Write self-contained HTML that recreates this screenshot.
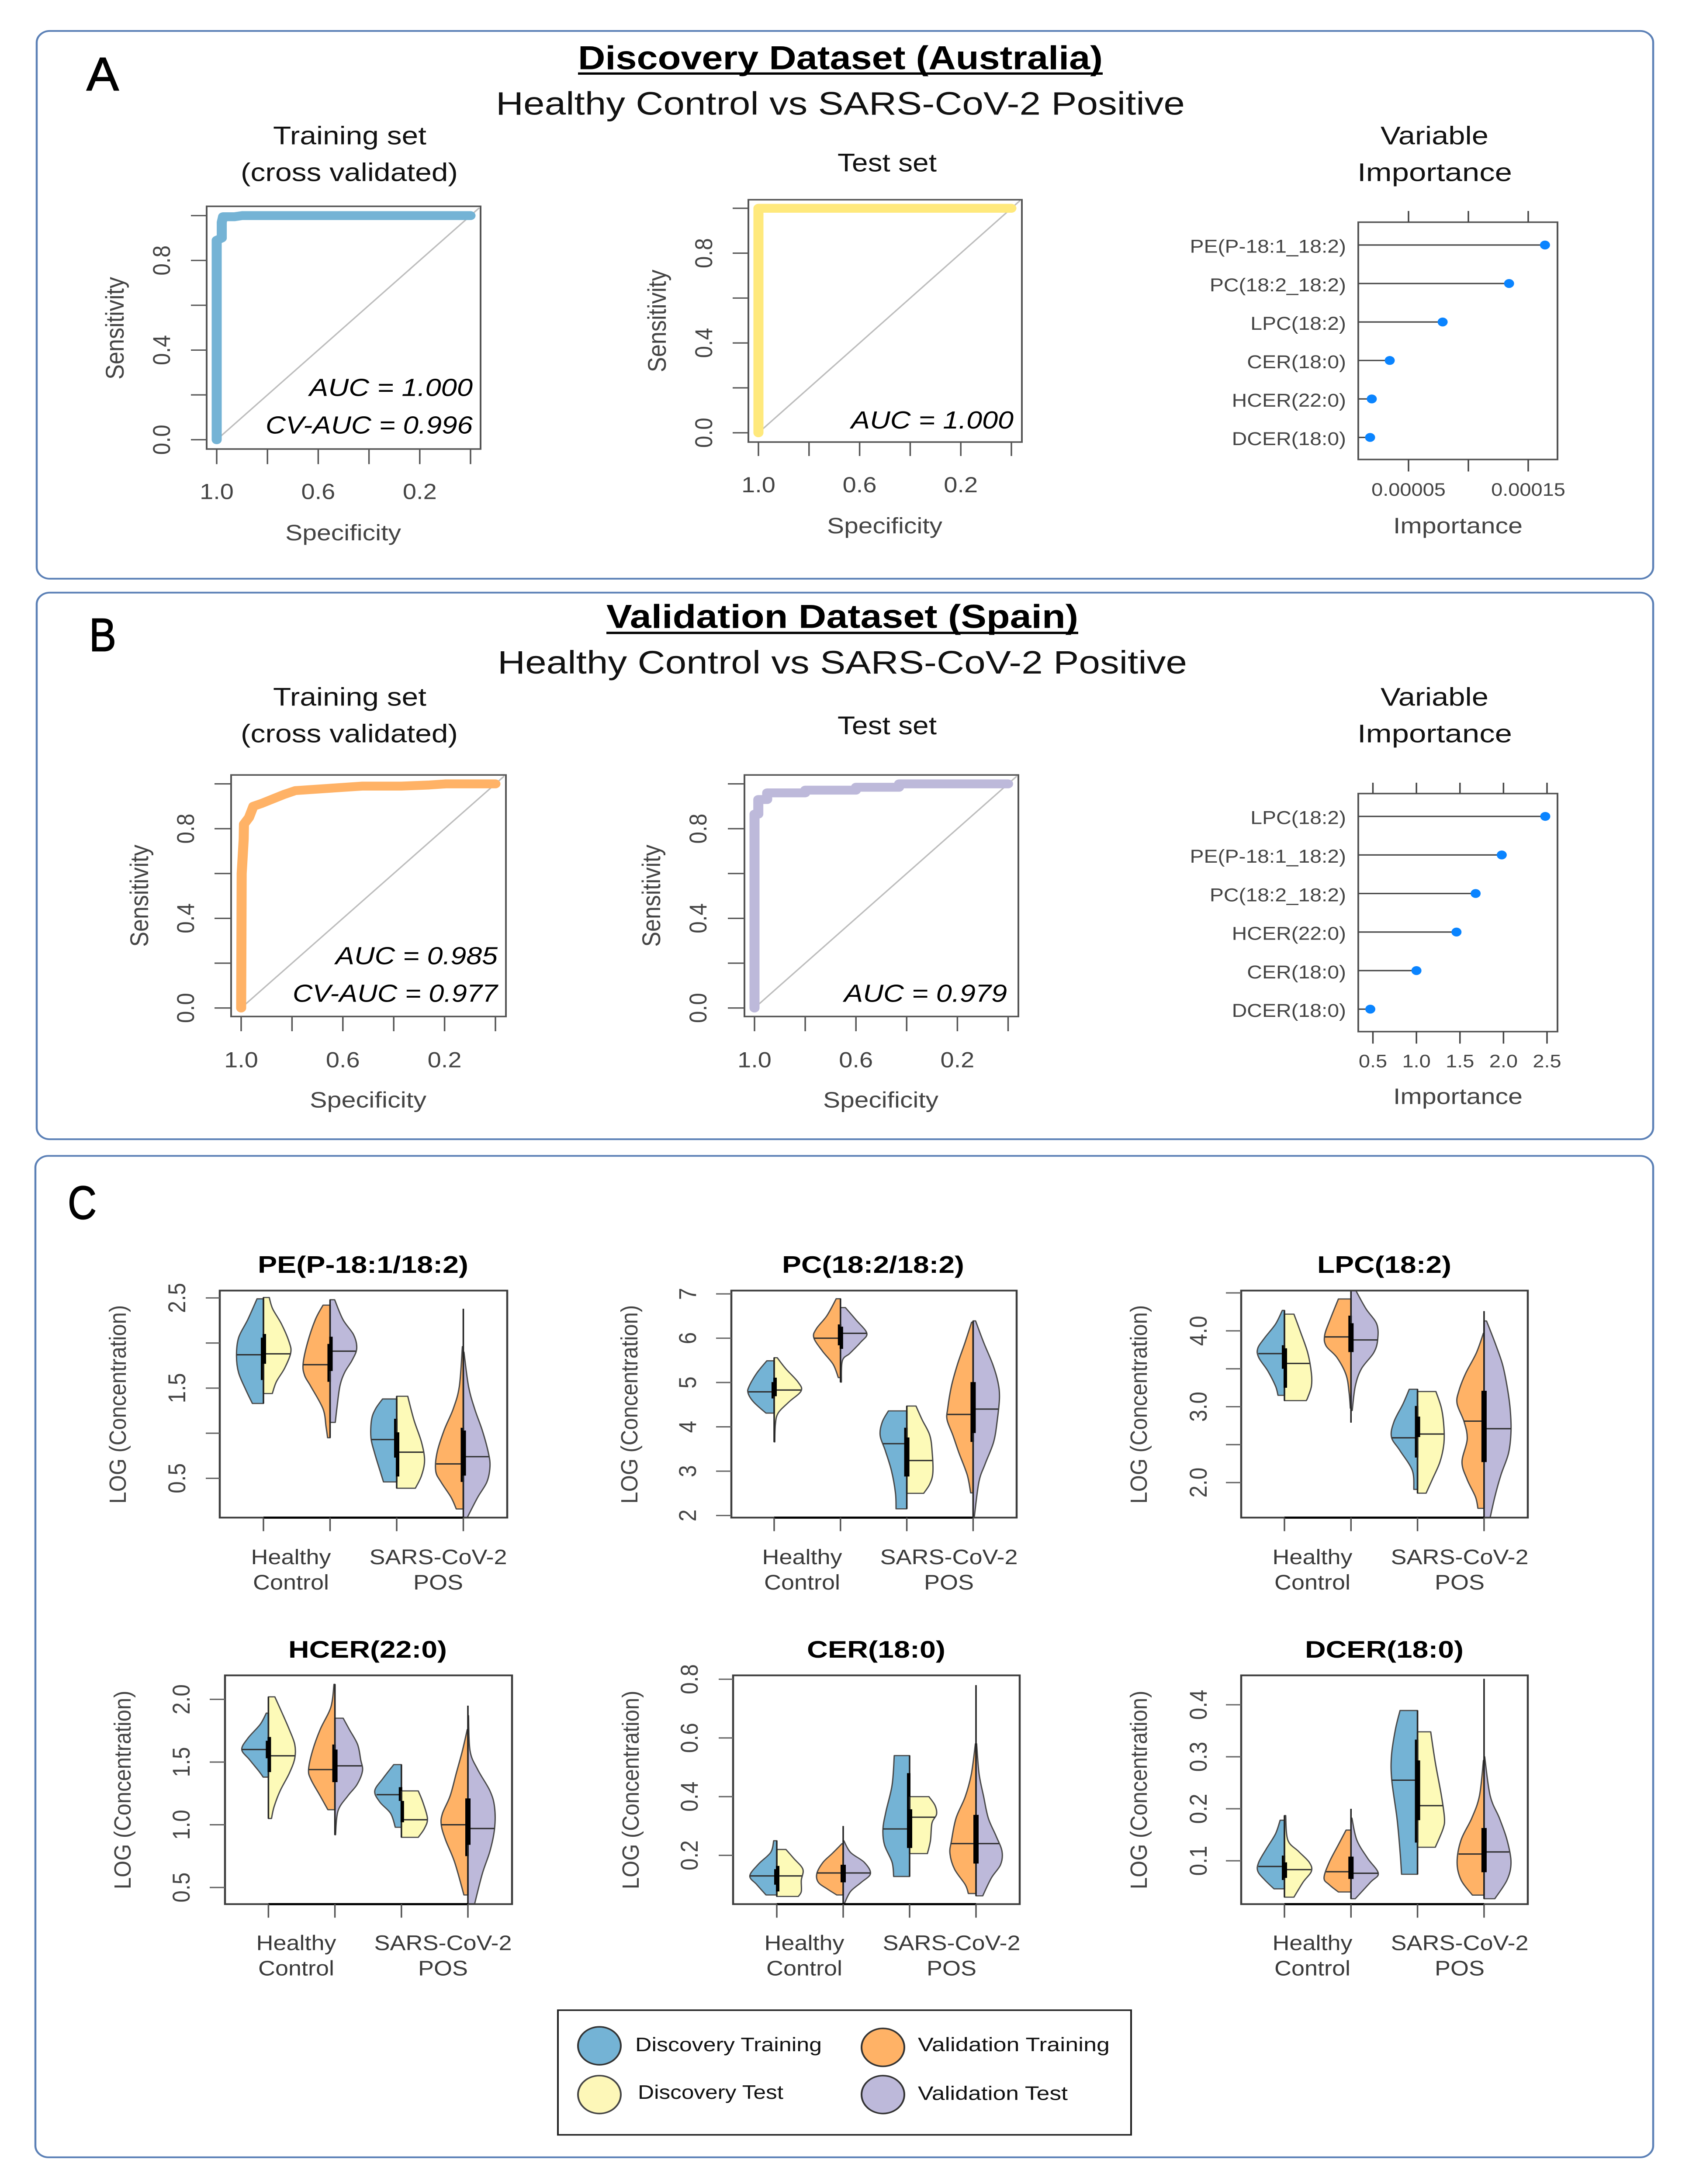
<!DOCTYPE html>
<html lang="en">
<head>
<meta charset="utf-8">
<title>Discovery and Validation Lipid Models</title>
<style>
html,body{margin:0;padding:0;background:#fff;width:100%;height:100%;overflow:hidden;}
svg#figure{display:block;width:100vw;height:100vh;}
text{font-family:"Liberation Sans",sans-serif;}
.panel{fill:#fff;stroke:#5b80b6;stroke-width:4.5;}
.letter{font-size:122px;fill:#000;stroke:#000;stroke-width:2;}
.head{font-size:86px;font-weight:bold;fill:#000;}
.sub{font-size:84px;fill:#111;}
.cap{font-size:66px;fill:#111;}
.auc{font-size:64px;font-style:italic;fill:#000;}
.axt{font-size:58px;fill:#444;}
.ttl{font-size:62px;font-weight:bold;fill:#000;}
.cat{font-size:54px;fill:#3a3a3a;text-anchor:middle;}
.ylab{font-size:54px;fill:#444;text-anchor:middle;}
.leg{font-size:50px;fill:#111;}
</style>
</head>
<body>
<svg id="figure" xmlns="http://www.w3.org/2000/svg" viewBox="0 0 3866 5642" preserveAspectRatio="none">
<rect width="3866" height="5642" fill="#fff"/>

<!-- Panel A -->
<rect class="panel" x="84" y="80" width="3700" height="1415" rx="30"/>
<text class="letter" x="198" y="233" textLength="74" lengthAdjust="spacingAndGlyphs">A</text>
<text class="head" x="1323" y="179" textLength="1201" lengthAdjust="spacingAndGlyphs">Discovery Dataset (Australia)</text>
<rect x="1323" y="187" width="1201" height="6" fill="#000"/>
<text class="sub" x="1135" y="296" textLength="1577" lengthAdjust="spacingAndGlyphs">Healthy Control vs SARS-CoV-2 Positive</text>
<text class="cap" x="625" y="373" textLength="351" lengthAdjust="spacingAndGlyphs">Training set</text>
<text class="cap" x="551" y="468" textLength="497" lengthAdjust="spacingAndGlyphs">(cross validated)</text>
<text class="cap" x="1917" y="443" textLength="227" lengthAdjust="spacingAndGlyphs">Test set</text>
<text class="cap" x="3160" y="373" textLength="247" lengthAdjust="spacingAndGlyphs">Variable</text>
<text class="cap" x="3107" y="468" textLength="354" lengthAdjust="spacingAndGlyphs">Importance</text>
<g id="roc-a1"></g>
<g id="roc-a2"></g>
<g id="imp-a"></g>
<text class="axt" text-anchor="middle" transform="translate(283 848) rotate(-90)" textLength="265" lengthAdjust="spacingAndGlyphs">Sensitivity</text>
<text class="axt" x="653" y="1396" textLength="265" lengthAdjust="spacingAndGlyphs">Specificity</text>
<text class="auc" x="708" y="1023" textLength="374" lengthAdjust="spacingAndGlyphs">AUC = 1.000</text>
<text class="auc" x="608" y="1120" textLength="474" lengthAdjust="spacingAndGlyphs">CV-AUC = 0.996</text>
<text class="axt" text-anchor="middle" transform="translate(1524 829) rotate(-90)" textLength="265" lengthAdjust="spacingAndGlyphs">Sensitivity</text>
<text class="axt" x="1893" y="1378" textLength="264" lengthAdjust="spacingAndGlyphs">Specificity</text>
<text class="auc" x="1948" y="1107" textLength="372" lengthAdjust="spacingAndGlyphs">AUC = 1.000</text>
<text class="axt" x="3189" y="1378" textLength="296" lengthAdjust="spacingAndGlyphs">Importance</text>

<!-- Panel B -->
<rect class="panel" x="84" y="1531" width="3700" height="1412" rx="30"/>
<text class="letter" x="204" y="1682" textLength="62" lengthAdjust="spacingAndGlyphs">B</text>
<text class="head" x="1388" y="1622" textLength="1080" lengthAdjust="spacingAndGlyphs">Validation Dataset (Spain)</text>
<rect x="1388" y="1632" width="1080" height="6" fill="#000"/>
<text class="sub" x="1139" y="1740" textLength="1578" lengthAdjust="spacingAndGlyphs">Healthy Control vs SARS-CoV-2 Positive</text>
<text class="cap" x="625" y="1823" textLength="351" lengthAdjust="spacingAndGlyphs">Training set</text>
<text class="cap" x="551" y="1918" textLength="497" lengthAdjust="spacingAndGlyphs">(cross validated)</text>
<text class="cap" x="1917" y="1897" textLength="227" lengthAdjust="spacingAndGlyphs">Test set</text>
<text class="cap" x="3160" y="1823" textLength="247" lengthAdjust="spacingAndGlyphs">Variable</text>
<text class="cap" x="3107" y="1918" textLength="354" lengthAdjust="spacingAndGlyphs">Importance</text>
<g id="roc-b1"></g>
<g id="roc-b2"></g>
<g id="imp-b"></g>
<text class="axt" text-anchor="middle" transform="translate(339 2314) rotate(-90)" textLength="264" lengthAdjust="spacingAndGlyphs">Sensitivity</text>
<text class="axt" x="709" y="2861" textLength="267" lengthAdjust="spacingAndGlyphs">Specificity</text>
<text class="auc" x="768" y="2491" textLength="371" lengthAdjust="spacingAndGlyphs">AUC = 0.985</text>
<text class="auc" x="670" y="2588" textLength="469" lengthAdjust="spacingAndGlyphs">CV-AUC = 0.977</text>
<text class="axt" text-anchor="middle" transform="translate(1511 2314) rotate(-90)" textLength="264" lengthAdjust="spacingAndGlyphs">Sensitivity</text>
<text class="axt" x="1884" y="2861" textLength="264" lengthAdjust="spacingAndGlyphs">Specificity</text>
<text class="auc" x="1932" y="2588" textLength="373" lengthAdjust="spacingAndGlyphs">AUC = 0.979</text>
<text class="axt" x="3189" y="2852" textLength="296" lengthAdjust="spacingAndGlyphs">Importance</text>

<!-- Panel C -->
<rect class="panel" x="81" y="2986" width="3703" height="2587" rx="30"/>
<text class="letter" x="155" y="3149" textLength="66" lengthAdjust="spacingAndGlyphs">C</text>

<text class="ttl" x="590" y="3288" textLength="482" lengthAdjust="spacingAndGlyphs">PE(P-18:1/18:2)</text>
<text class="ylab" transform="translate(288 3628) rotate(-90)" textLength="513" lengthAdjust="spacingAndGlyphs">LOG (Concentration)</text>
<g id="vio-pe"></g>
<text class="cat" x="666" y="4041">Healthy</text>
<text class="cat" x="666" y="4106">Control</text>
<text class="cat" x="1003" y="4041">SARS-CoV-2</text>
<text class="cat" x="1003" y="4106">POS</text>

<text class="ttl" x="1790" y="3288" textLength="417" lengthAdjust="spacingAndGlyphs">PC(18:2/18:2)</text>
<text class="ylab" transform="translate(1459 3628) rotate(-90)" textLength="513" lengthAdjust="spacingAndGlyphs">LOG (Concentration)</text>
<g id="vio-pc"></g>
<text class="cat" x="1836" y="4041">Healthy</text>
<text class="cat" x="1836" y="4106">Control</text>
<text class="cat" x="2172" y="4041">SARS-CoV-2</text>
<text class="cat" x="2172" y="4106">POS</text>

<text class="ttl" x="3015" y="3288" textLength="307" lengthAdjust="spacingAndGlyphs">LPC(18:2)</text>
<text class="ylab" transform="translate(2625 3628) rotate(-90)" textLength="513" lengthAdjust="spacingAndGlyphs">LOG (Concentration)</text>
<g id="vio-lpc"></g>
<text class="cat" x="3004" y="4041">Healthy</text>
<text class="cat" x="3004" y="4106">Control</text>
<text class="cat" x="3341" y="4041">SARS-CoV-2</text>
<text class="cat" x="3341" y="4106">POS</text>

<text class="ttl" x="660" y="4282" textLength="363" lengthAdjust="spacingAndGlyphs">HCER(22:0)</text>
<text class="ylab" transform="translate(299 4624) rotate(-90)" textLength="513" lengthAdjust="spacingAndGlyphs">LOG (Concentration)</text>
<g id="vio-hcer"></g>
<text class="cat" x="678" y="5038">Healthy</text>
<text class="cat" x="678" y="5103">Control</text>
<text class="cat" x="1014" y="5038">SARS-CoV-2</text>
<text class="cat" x="1014" y="5103">POS</text>

<text class="ttl" x="1847" y="4282" textLength="317" lengthAdjust="spacingAndGlyphs">CER(18:0)</text>
<text class="ylab" transform="translate(1462 4624) rotate(-90)" textLength="513" lengthAdjust="spacingAndGlyphs">LOG (Concentration)</text>
<g id="vio-cer"></g>
<text class="cat" x="1841" y="5038">Healthy</text>
<text class="cat" x="1841" y="5103">Control</text>
<text class="cat" x="2178" y="5038">SARS-CoV-2</text>
<text class="cat" x="2178" y="5103">POS</text>

<text class="ttl" x="2987" y="4282" textLength="363" lengthAdjust="spacingAndGlyphs">DCER(18:0)</text>
<text class="ylab" transform="translate(2625 4624) rotate(-90)" textLength="513" lengthAdjust="spacingAndGlyphs">LOG (Concentration)</text>
<g id="vio-dcer"></g>
<text class="cat" x="3004" y="5038">Healthy</text>
<text class="cat" x="3004" y="5103">Control</text>
<text class="cat" x="3341" y="5038">SARS-CoV-2</text>
<text class="cat" x="3341" y="5103">POS</text>

<!-- Legend -->
<g>
<rect x="1277" y="5193" width="1312" height="322" fill="#fff" stroke="#222" stroke-width="4"/>
<circle cx="1372" cy="5285" r="49" fill="#74b3d5" stroke="#333" stroke-width="4"/>
<text class="leg" x="1454" y="5299" textLength="427" lengthAdjust="spacingAndGlyphs">Discovery Training</text>
<circle cx="2021" cy="5289" r="49" fill="#ffb266" stroke="#333" stroke-width="4"/>
<text class="leg" x="2101" y="5299" textLength="439" lengthAdjust="spacingAndGlyphs">Validation Training</text>
<circle cx="1372" cy="5411" r="49" fill="#fdf7b8" stroke="#444" stroke-width="4"/>
<text class="leg" x="1460" y="5422" textLength="333" lengthAdjust="spacingAndGlyphs">Discovery Test</text>
<circle cx="2021" cy="5411" r="49" fill="#bdb9da" stroke="#333" stroke-width="4"/>
<text class="leg" x="2101" y="5425" textLength="343" lengthAdjust="spacingAndGlyphs">Validation Test</text>
</g>
</svg>

<script>
/* ---------- ROC data ---------- */
const rocXTicks = [1, 0.8, 0.6, 0.4, 0.2, 0];
const rocXTickLabels = ['1.0', '', '0.6', '', '0.2', ''];
const rocYTicks = [0, 0.2, 0.4, 0.6, 0.8, 1];
const rocYTickLabels = ['0.0', '', '0.4', '', '0.8', ''];
const rocA1Spec = [1, 1, 0.98, 0.98, 0.975, 0.93, 0.9, 0];
const rocA1Sens = [0, 0.89, 0.9, 0.97, 0.995, 0.995, 1, 1];
const rocA2Spec = [1, 1, 0];
const rocA2Sens = [0, 1, 1];
const rocB1Spec = [1, 0.998, 0.99, 0.989, 0.969, 0.952, 0.919, 0.831, 0.787, 0.656, 0.524, 0.37, 0.26, 0.195, 0];
const rocB1Sens = [0, 0.6, 0.754, 0.82, 0.85, 0.9, 0.913, 0.953, 0.97, 0.98, 0.99, 0.99, 0.995, 1, 1];
const rocB2Spec = [1, 1, 0.985, 0.985, 0.95, 0.95, 0.8, 0.8, 0.6, 0.6, 0.43, 0.43, 0];
const rocB2Sens = [0, 0.865, 0.865, 0.93, 0.93, 0.96, 0.96, 0.972, 0.972, 0.985, 0.985, 1, 1];

/* ---------- Variable importance data ---------- */
const impANames = ['PE(P-18:1_18:2)', 'PC(18:2_18:2)', 'LPC(18:2)', 'CER(18:0)', 'HCER(22:0)', 'DCER(18:0)'];
const impAValues = [0.000164, 0.000134, 0.0000785, 0.0000343, 0.0000193, 0.0000179];
const impATicks = [0.00005, 0.0001, 0.00015];
const impATickLabels = ['0.00005', '', '0.00015'];
const impBNames = ['LPC(18:2)', 'PE(P-18:1_18:2)', 'PC(18:2_18:2)', 'HCER(22:0)', 'CER(18:0)', 'DCER(18:0)'];
const impBValues = [2.48, 1.98, 1.68, 1.46, 1.0, 0.47];
const impBTicks = [0.5, 1, 1.5, 2, 2.5];
const impBTickLabels = ['0.5', '1.0', '1.5', '2.0', '2.5'];

/* ---------- Violin data: 8 half-violins per chart
   order: healthy DiscTrain, DiscTest, ValTrain, ValTest, then positive in same order ---------- */
const halfGroups = ['Discovery Training', 'Discovery Test', 'Validation Training', 'Validation Test', 'Discovery Training', 'Discovery Test', 'Validation Training', 'Validation Test'];

const peTicks = [0.5, 1, 1.5, 2, 2.5];
const peTickLabels = ['0.5', '', '1.5', '', '2.5'];
const peValues = [
 [2.49,2.26,2.06,1.86,1.67,1.47,1.33],
 [2.505,2.38,2.21,2.01,1.89,1.72,1.57,1.44],
 [2.42,2.26,2.01,1.77,1.64,1.52,1.27,1.07,0.95],
 [2.48,2.26,2.09,1.94,1.81,1.67,1.52,1.27,1.12],
 [1.38,1.27,1.15,0.95,0.78,0.58,0.46],
 [1.41,1.15,0.9,0.7,0.53,0.39],
 [1.96,1.52,1.27,1.03,0.78,0.58,0.46,0.29,0.16],
 [1.9,1.52,1.27,1.03,0.78,0.63,0.46,0.29,0.06]];
const peDensity = [
 [0.21,0.51,0.81,0.88,0.81,0.56,0.36],
 [0.19,0.3,0.59,0.84,0.89,0.69,0.42,0.29],
 [0.23,0.48,0.73,0.88,0.83,0.63,0.23,0.13,0.08],
 [0.15,0.42,0.77,0.87,0.72,0.47,0.32,0.22,0.17],
 [0.46,0.69,0.82,0.84,0.72,0.54,0.43],
 [0.36,0.56,0.81,0.91,0.81,0.61],
 [0.03,0.13,0.33,0.63,0.86,0.9,0.73,0.4,0.23],
 [0.02,0.17,0.37,0.62,0.82,0.87,0.77,0.47,0.12]];
const peMedian = [1.87,1.88,1.76,1.91,0.93,0.79,0.66,0.74];
const peQ1 = [1.59,1.77,1.57,1.69,0.73,0.52,0.46,0.53];
const peQ3 = [2.06,2.1,1.99,2.07,1.16,1.01,1.06,1.03];
const peLow = [1.33,1.44,0.95,1.12,0.46,0.39,0.16,0.06];
const peHigh = [2.49,2.505,2.42,2.48,1.38,1.41,1.9,2.38];

const pcTicks = [2, 3, 4, 5, 6, 7];
const pcTickLabels = ['2', '3', '4', '5', '6', '7'];
const pcValues = [
 [5.49,5.21,4.91,4.76,4.56,4.31],
 [5.56,5.31,5.01,4.81,4.56,4.31,4.06,3.66],
 [6.89,6.51,6.21,6.01,5.71,5.41,5.11],
 [6.69,6.41,6.11,5.91,5.66,5.49,5.01],
 [4.36,4.11,3.81,3.46,3.01,2.51,2.15],
 [4.47,4.16,3.81,3.41,2.96,2.71,2.5],
 [6.36,5.91,5.41,4.91,4.41,4.16,3.81,3.41,2.91,2.51],
 [6.39,5.91,5.41,5.01,4.66,4.16,3.66,3.16,2.76,1.98]];
const pcDensity = [
 [0.24,0.57,0.82,0.85,0.67,0.27],
 [0.1,0.38,0.78,0.88,0.48,0.13,0.04,0.02],
 [0.14,0.44,0.79,0.87,0.59,0.24,0.07],
 [0.16,0.51,0.86,0.66,0.31,0.06,0.03],
 [0.6,0.8,0.87,0.7,0.5,0.37,0.35],
 [0.3,0.5,0.75,0.83,0.85,0.75,0.55],
 [0.05,0.26,0.51,0.71,0.83,0.85,0.66,0.46,0.19,0.08],
 [0.08,0.34,0.64,0.81,0.86,0.79,0.67,0.39,0.19,0.04]];
const pcMedian = [4.79,4.83,6.0,6.11,3.62,3.24,4.28,4.4];
const pcQ1 = [4.64,4.69,5.84,5.76,2.88,2.88,3.66,3.86];
const pcQ3 = [5.01,5.11,6.31,6.26,3.98,3.76,5.01,5.01];
const pcLow = [4.31,3.66,5.11,5.01,2.15,2.5,2.51,1.98];
const pcHigh = [5.49,5.56,6.89,6.69,4.36,4.47,6.36,6.39];

const lpcTicks = [2, 2.5, 3, 3.5, 4, 4.5];
const lpcTickLabels = ['2.0', '', '3.0', '', '4.0', ''];
const lpcValues = [
 [4.27,4.09,3.91,3.77,3.65,3.47,3.27,3.15],
 [4.22,4,3.71,3.44,3.27,3.12,3.08],
 [4.42,4.15,3.94,3.8,3.65,3.42,3.18,2.98],
 [4.53,4.29,4.09,3.88,3.71,3.5,3.27,2.95],
 [3.23,3.04,2.8,2.6,2.42,2.16,1.91],
 [3.2,2.98,2.74,2.51,2.27,2.04,1.86],
 [3.97,3.71,3.44,3.21,3.04,2.8,2.57,2.27,2.04,1.81,1.66],
 [4.13,3.85,3.56,3.27,2.98,2.68,2.39,2.1,1.81,1.54]];
const lpcDensity = [
 [0.07,0.29,0.64,0.87,0.84,0.54,0.29,0.21],
 [0.31,0.51,0.76,0.88,0.88,0.76,0.71],
 [0.41,0.68,0.86,0.81,0.46,0.16,0.06,0.02],
 [0.16,0.49,0.84,0.87,0.74,0.34,0.14,0.04],
 [0.27,0.47,0.77,0.85,0.57,0.17,0.12],
 [0.6,0.78,0.86,0.86,0.73,0.48,0.28],
 [0.02,0.25,0.6,0.82,0.88,0.65,0.55,0.72,0.55,0.28,0.2],
 [0.08,0.35,0.6,0.75,0.85,0.88,0.8,0.55,0.35,0.2]];
const lpcMedian = [3.7,3.57,3.92,3.88,2.59,2.64,2.81,2.71];
const lpcQ1 = [3.5,3.25,3.72,3.72,2.33,2.6,2.27,2.27];
const lpcQ3 = [3.81,3.77,4.2,4.1,3.01,2.87,3.21,3.21];
const lpcLow = [3.15,3.08,2.98,2.79,1.91,1.86,1.66,1.54];
const lpcHigh = [4.27,4.22,4.42,4.53,3.23,3.2,4.26,4.13];

const hcerTicks = [0.5, 1, 1.5, 2];
const hcerTickLabels = ['0.5', '1.0', '1.5', '2.0'];
const hcerValues = [
 [1.89,1.8,1.69,1.6,1.52,1.43,1.38],
 [2.02,1.9,1.76,1.64,1.53,1.41,1.27,1.14,1.05],
 [2.12,1.94,1.76,1.59,1.44,1.36,1.23,1.12],
 [1.85,1.76,1.64,1.52,1.43,1.32,1.23,1.11,0.92],
 [1.48,1.37,1.27,1.18,1.09,0.98],
 [1.27,1.18,1.05,0.97,0.9],
 [1.76,1.59,1.41,1.23,1.09,1.0,0.88,0.7,0.44],
 [1.87,1.59,1.44,1.27,1.14,0.97,0.79,0.61,0.37]];
const hcerDensity = [
 [0.07,0.27,0.67,0.87,0.62,0.32,0.17],
 [0.21,0.43,0.68,0.86,0.86,0.68,0.38,0.18,0.1],
 [0.03,0.13,0.48,0.73,0.86,0.78,0.48,0.23],
 [0.27,0.47,0.74,0.84,0.9,0.72,0.42,0.1,0.02],
 [0.25,0.6,0.87,0.7,0.35,0.2],
 [0.55,0.7,0.85,0.75,0.55],
 [0.02,0.18,0.38,0.58,0.83,0.87,0.73,0.43,0.13],
 [0.02,0.07,0.32,0.72,0.87,0.87,0.72,0.47,0.22]];
const hcerMedian = [1.6,1.55,1.44,1.47,1.24,1.04,1.0,0.97];
const hcerQ1 = [1.53,1.42,1.34,1.34,1.19,1.02,0.75,0.84];
const hcerQ3 = [1.67,1.7,1.64,1.6,1.3,1.19,1.21,1.21];
const hcerLow = [1.38,1.05,1.12,0.92,0.98,0.9,0.44,0.37];
const hcerHigh = [1.89,2.02,2.12,1.85,1.48,1.27,1.76,1.95];

const cerTicks = [0.2, 0.4, 0.6, 0.8];
const cerTickLabels = ['0.2', '0.4', '0.6', '0.8'];
const cerValues = [
 [0.25,0.21,0.17,0.13,0.1,0.065],
 [0.22,0.19,0.153,0.115,0.077,0.06],
 [0.24,0.206,0.176,0.138,0.108,0.085,0.065],
 [0.25,0.21,0.176,0.138,0.108,0.077,0.036],
 [0.54,0.44,0.35,0.29,0.236,0.176,0.128],
 [0.4,0.37,0.34,0.31,0.25,0.206],
 [0.58,0.478,0.4,0.327,0.25,0.206,0.153,0.1,0.07],
 [0.58,0.478,0.4,0.327,0.267,0.213,0.168,0.123,0.062]];
const cerDensity = [
 [0.1,0.2,0.6,0.88,0.65,0.35],
 [0.3,0.55,0.85,0.8,0.8,0.7],
 [0.04,0.36,0.66,0.86,0.81,0.51,0.21],
 [0.02,0.24,0.69,0.89,0.59,0.24,0.04],
 [0.5,0.57,0.77,0.87,0.82,0.57,0.52],
 [0.63,0.83,0.88,0.73,0.68,0.58],
 [0.02,0.15,0.35,0.65,0.8,0.85,0.7,0.35,0.25],
 [0.02,0.1,0.25,0.4,0.65,0.85,0.8,0.5,0.22]];
const cerMedian = [0.13,0.13,0.14,0.14,0.29,0.33,0.24,0.24];
const cerQ1 = [0.1,0.077,0.108,0.108,0.225,0.225,0.172,0.172];
const cerQ3 = [0.153,0.164,0.168,0.168,0.48,0.357,0.338,0.338];
const cerLow = [0.065,0.06,0.065,0.036,0.128,0.206,0.07,0.062];
const cerHigh = [0.25,0.22,0.24,0.3,0.54,0.4,0.58,0.78];

const dcerTicks = [0.1, 0.2, 0.3, 0.4];
const dcerTickLabels = ['0.1', '0.2', '0.3', '0.4'];
const dcerValues = [
 [0.178,0.152,0.123,0.097,0.08,0.063,0.046],
 [0.187,0.14,0.118,0.097,0.08,0.059,0.03],
 [0.159,0.131,0.097,0.067,0.054,0.04],
 [0.182,0.14,0.105,0.076,0.059,0.027],
 [0.389,0.353,0.302,0.255,0.182,0.118,0.074],
 [0.348,0.289,0.225,0.182,0.161,0.126],
 [0.293,0.225,0.182,0.14,0.097,0.063,0.034],
 [0.3,0.225,0.182,0.14,0.097,0.063,0.027]];
const dcerDensity = [
 [0.14,0.29,0.59,0.84,0.87,0.64,0.34],
 [0.04,0.11,0.46,0.81,0.88,0.61,0.31],
 [0.16,0.41,0.71,0.88,0.71,0.41],
 [0.03,0.19,0.54,0.89,0.64,0.14],
 [0.57,0.72,0.85,0.84,0.67,0.57,0.52],
 [0.43,0.58,0.78,0.88,0.83,0.58],
 [0.02,0.15,0.4,0.75,0.88,0.75,0.38],
 [0.02,0.2,0.5,0.75,0.88,0.75,0.35]];
const dcerMedian = [0.089,0.083,0.079,0.076,0.255,0.206,0.113,0.117];
const dcerQ1 = [0.063,0.067,0.065,0.065,0.135,0.178,0.078,0.078];
const dcerQ3 = [0.11,0.097,0.108,0.108,0.333,0.293,0.163,0.163];
const dcerLow = [0.046,0.03,0.04,0.027,0.074,0.126,0.034,0.027];
const dcerHigh = [0.178,0.187,0.159,0.2,0.389,0.348,0.293,0.45];

/* ---------- helpers ---------- */
const NS = 'http://www.w3.org/2000/svg';
function add(parent, tag, attrs, text) {
  const e = document.createElementNS(NS, tag);
  for (const k in attrs) e.setAttribute(k, attrs[k]);
  if (text !== undefined) e.textContent = text;
  parent.appendChild(e);
  return e;
}
function linear(d0, d1, r0, r1) {
  return v => r0 + (v - d0) * (r1 - r0) / (d1 - d0);
}
function pointsToPath(pts) {
  return pts.map((p, i) => (i ? 'L' : 'M') + p[0].toFixed(1) + ' ' + p[1].toFixed(1)).join(' ');
}
/* Catmull-Rom smoothing through the outline points */
function smoothSegment(pts) {
  let d = '';
  for (let i = 0; i < pts.length - 1; i++) {
    const p0 = pts[Math.max(i - 1, 0)], p1 = pts[i], p2 = pts[i + 1], p3 = pts[Math.min(i + 2, pts.length - 1)];
    const c1x = p1[0] + (p2[0] - p0[0]) / 6, c1y = p1[1] + (p2[1] - p0[1]) / 6;
    const c2x = p2[0] - (p3[0] - p1[0]) / 6, c2y = p2[1] - (p3[1] - p1[1]) / 6;
    d += ' C' + c1x.toFixed(1) + ' ' + c1y.toFixed(1) + ' ' + c2x.toFixed(1) + ' ' + c2y.toFixed(1) + ' ' + p2[0].toFixed(1) + ' ' + p2[1].toFixed(1);
  }
  return d;
}

/* ---------- ROC plots ---------- */
function drawRoc(id, box, xRange, yRange, tickOut, labelY, labelX, spec, sens, color) {
  const g = document.getElementById(id);
  const xs = linear(1, 0, xRange[0], xRange[1]);
  const ys = linear(0, 1, yRange[0], yRange[1]);
  let el;
  el = add(g, 'line', {x1: xs(1), y1: ys(0), x2: xs(0) + 20, y2: ys(1) - 20, stroke: '#bdbdbd', 'stroke-width': 3.5});
  
  
  el = add(g, 'rect', {x: box[0], y: box[1], width: box[2] - box[0], height: box[3] - box[1], fill: 'none', stroke: '#555', 'stroke-width': 4});
  
  
  rocXTicks.forEach((t, i) => {
    let m = add(g, 'line', {x1: xs(t), x2: xs(t), y1: box[3], y2: tickOut[0], stroke: '#555', 'stroke-width': 3.5});
    
    
    if (rocXTickLabels[i]) {
      m = add(g, 'text', {x: xs(t), y: labelY, 'text-anchor': 'middle', 'font-size': 56, fill: '#444'}, rocXTickLabels[i]);
      
      
    }
  });
  rocYTicks.forEach((t, i) => {
    let m = add(g, 'line', {x1: tickOut[1], x2: box[0], y1: ys(t), y2: ys(t), stroke: '#555', 'stroke-width': 3.5});
    
    
    if (rocYTickLabels[i]) {
      m = add(g, 'text', {transform: 'translate(' + labelX + ' ' + ys(t) + ') rotate(-90)', 'text-anchor': 'middle', 'font-size': 56, fill: '#444'}, rocYTickLabels[i]);
      
      
    }
  });
  const pts = spec.map((s, i) => [xs(s), ys(sens[i])]);
  el = add(g, 'path', {d: pointsToPath(pts), fill: 'none', stroke: color, 'stroke-width': 23, 'stroke-linejoin': 'round', 'stroke-linecap': 'round'});
  
  
}
drawRoc('roc-a1', [473, 533, 1100, 1160], [496, 1077], [1136, 557], [1199, 437], 1289, 389, rocA1Spec, rocA1Sens, '#74b3d5');
drawRoc('roc-a2', [1713, 516, 2339, 1142], [1736, 2315], [1118, 538], [1178, 1677], 1272, 1630, rocA2Spec, rocA2Sens, '#ffe97c');
drawRoc('roc-b1', [529, 2002, 1158, 2626], [552, 1134], [2604, 2025], [2664, 491], 2757, 444, rocB1Spec, rocB1Sens, '#ffb266');
drawRoc('roc-b2', [1704, 2002, 2331, 2626], [1727, 2307.5], [2604, 2025], [2664, 1666], 2757, 1617, rocB2Spec, rocB2Sens, '#bdb9da');

/* ---------- Variable importance plots ---------- */
function drawImportance(id, box, tickDom, tickPx, rowStart, rowStep, tickTop, tickBottom, labelY, names, values, ticks, tickLabels) {
  const g = document.getElementById(id);
  const xs = linear(tickDom[0], tickDom[1], tickPx[0], tickPx[1]);
  let el;
  el = add(g, 'rect', {x: box[0], y: box[1], width: box[2] - box[0], height: box[3] - box[1], fill: 'none', stroke: '#555', 'stroke-width': 4});
  
  
  ticks.forEach((t, i) => {
    let m = add(g, 'line', {x1: xs(t), x2: xs(t), y1: tickTop, y2: box[1], stroke: '#444', 'stroke-width': 3.5});
    
    
    m = add(g, 'line', {x1: xs(t), x2: xs(t), y1: box[3], y2: tickBottom, stroke: '#444', 'stroke-width': 3.5});
    
    
    if (tickLabels[i]) {
      m = add(g, 'text', {x: xs(t), y: labelY, 'text-anchor': 'middle', 'font-size': 47, fill: '#444'}, tickLabels[i]);
      
      
    }
  });
  names.forEach((n, i) => {
    const y = rowStart + i * rowStep;
    let m = add(g, 'line', {x1: box[0], x2: xs(values[i]), y1: y, y2: y, stroke: '#444', 'stroke-width': 3.5});
    
    
    m = add(g, 'circle', {cx: xs(values[i]), cy: y, r: 11.5, fill: '#0a84ff'});
    
    
    m = add(g, 'text', {x: 3081, y: y + 20, 'text-anchor': 'end', 'font-size': 48, fill: '#444'}, n);
    
    
  });
}
drawImportance('imp-a', [3109, 574, 3565, 1187], [0.00005, 0.00015], [3224, 3498], 633, 99.4, 545, 1218, 1281, impANames, impAValues, impATicks, impATickLabels);
drawImportance('imp-b', [3109, 2050, 3565, 2665], [0.5, 2.5], [3142.5, 3541], 2109, 99.6, 2022, 2696, 2757, impBNames, impBValues, impBTicks, impBTickLabels);

/* ---------- Violin plots ---------- */
const halfColors = ['#74b3d5', '#fdfab8', '#ffb266', '#bdb9da', '#74b3d5', '#fdfab8', '#ffb266', '#bdb9da'];
const densityPx = 70.15;
function drawViolins(id, box, anchor, xStart, xStep, tickLeft, labelX, ticks, tickLabels, values, density, median, q1, q3, low, high) {
  const g = document.getElementById(id);
  const ys = linear(anchor[0], anchor[2], anchor[1], anchor[3]);
  const cx = group => xStart + group * xStep;
  const clipId = id + '-clip';
  const defs = add(g, 'defs', {});
  const cp = add(defs, 'clipPath', {id: clipId});
  add(cp, 'rect', {x: box[0], y: box[1], width: box[2] - box[0], height: box[3] - box[1]});
  const marks = add(g, 'g', {'clip-path': 'url(#' + clipId + ')'});
  let el;
  values.forEach((vals, i) => {
    const side = i % 2 === 0 ? -1 : 1;
    const c = cx(Math.floor(i / 2));
    const pts = vals.map((v, k) => [c + side * density[i][k] * densityPx, ys(v)]);
    const top = ys(vals[0]), bottom = ys(vals[vals.length - 1]);
    const d = 'M' + c + ' ' + top.toFixed(1) + ' L' + pts[0][0].toFixed(1) + ' ' + pts[0][1].toFixed(1) + smoothSegment(pts) + ' L' + c + ' ' + bottom.toFixed(1) + ' Z';
    el = add(marks, 'path', {d: d, fill: halfColors[i], stroke: '#4a4a4a', 'stroke-width': 3, 'stroke-linejoin': 'round'});
    
    
    /* median reaches the outline at its own height */
    let w = 0;
    for (let k = 0; k < vals.length - 1; k++) {
      if (median[i] <= vals[k] && median[i] >= vals[k + 1]) {
        const f = (vals[k] - median[i]) / (vals[k] - vals[k + 1]);
        w = density[i][k] + f * (density[i][k + 1] - density[i][k]);
      }
    }
    el = add(marks, 'line', {x1: c, x2: c + side * w * densityPx, y1: ys(median[i]), y2: ys(median[i]), stroke: '#2e2e2e', 'stroke-width': 3.5});
    
    
  });
  values.forEach((vals, i) => {
    const side = i % 2 === 0 ? -1 : 1;
    const c = cx(Math.floor(i / 2));
    el = add(marks, 'line', {x1: c, x2: c, y1: ys(high[i]), y2: ys(low[i]), stroke: '#222', 'stroke-width': 3.5});
    
    
    el = add(marks, 'line', {x1: c + side * 2, x2: c + side * 2, y1: ys(q3[i]), y2: ys(q1[i]), stroke: '#000', 'stroke-width': 8});
    
    
  });
  el = add(g, 'rect', {x: box[0], y: box[1], width: box[2] - box[0], height: box[3] - box[1], fill: 'none', stroke: '#3c3c3c', 'stroke-width': 4.5});
  
  
  el = add(g, 'line', {x1: cx(0), x2: cx(3), y1: box[3], y2: box[3], stroke: '#000', 'stroke-width': 5.5});
  
  
  [0, 1, 2, 3].forEach(k => {
    const m = add(g, 'line', {x1: cx(k), x2: cx(k), y1: box[3], y2: box[3] + 35, stroke: '#555', 'stroke-width': 3.5});
    
    
  });
  ticks.forEach((t, i) => {
    let m = add(g, 'line', {x1: tickLeft, x2: box[0], y1: ys(t), y2: ys(t), stroke: '#666', 'stroke-width': 3.5});
    
    
    if (tickLabels[i]) {
      m = add(g, 'text', {transform: 'translate(' + labelX + ' ' + ys(t) + ') rotate(-90)', 'text-anchor': 'middle', 'font-size': 56, fill: '#444'}, tickLabels[i]);
      
      
    }
  });
}
drawViolins('vio-pe', [503, 3334, 1161, 3920.5], [2.5, 3353, 0.5, 3819], 603, 152.5, 471, 424, peTicks, peTickLabels, peValues, peDensity, peMedian, peQ1, peQ3, peLow, peHigh);
drawViolins('vio-pc', [1674, 3334, 2327, 3920.5], [7, 3342.5, 2, 3915], 1772, 151.8, 1639, 1593, pcTicks, pcTickLabels, pcValues, pcDensity, pcMedian, pcQ1, pcQ3, pcLow, pcHigh);
drawViolins('vio-lpc', [2841, 3334, 3497, 3920.5], [4, 3438, 2, 3830], 2940, 152.3, 2806, 2762, lpcTicks, lpcTickLabels, lpcValues, lpcDensity, lpcMedian, lpcQ1, lpcQ3, lpcLow, lpcHigh);
drawViolins('vio-hcer', [515, 4328, 1172, 4919], [2, 4390, 0.5, 4876], 614.4, 152.2, 480, 434, hcerTicks, hcerTickLabels, hcerValues, hcerDensity, hcerMedian, hcerQ1, hcerQ3, hcerLow, hcerHigh);
drawViolins('vio-cer', [1678, 4328, 2334, 4919], [0.8, 4338, 0.2, 4793], 1778, 152, 1645, 1597, cerTicks, cerTickLabels, cerValues, cerDensity, cerMedian, cerQ1, cerQ3, cerLow, cerHigh);
drawViolins('vio-dcer', [2841, 4328, 3497, 4919], [0.4, 4404, 0.1, 4807], 2940, 152.3, 2806, 2762, dcerTicks, dcerTickLabels, dcerValues, dcerDensity, dcerMedian, dcerQ1, dcerQ3, dcerLow, dcerHigh);
</script>
</body>
</html>
